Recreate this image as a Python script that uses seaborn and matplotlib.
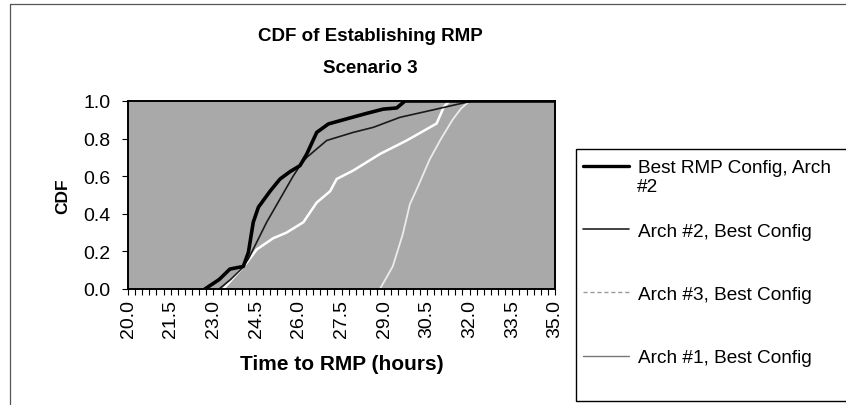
import matplotlib
matplotlib.use("Agg")
import matplotlib.pyplot as plt
from matplotlib.lines import Line2D
from matplotlib.patches import Rectangle
from matplotlib.ticker import MultipleLocator, FixedLocator, FormatStrFormatter
import seaborn as sns
import pandas as pd

# ---- data ----
best_x = [22.7, 23.2, 23.58, 24.05, 24.23, 24.4, 24.58, 24.99, 25.34, 25.7, 26.04, 26.28,
          26.63, 27.04, 27.8, 28.38, 28.97, 29.44, 29.73, 35.0]
best_y = [0.0, 0.05, 0.106, 0.12, 0.195, 0.355, 0.435, 0.52, 0.585, 0.625, 0.656, 0.718,
          0.833, 0.878, 0.91, 0.934, 0.957, 0.963, 1.0, 1.0]

arch2_x = [23.2, 23.6, 24.0, 24.23, 24.87, 25.8, 26.04, 26.28, 26.98, 27.91, 28.62, 29.55,
           30.84, 31.5, 32.1, 35.0]
arch2_y = [0.0, 0.05, 0.11, 0.16, 0.355, 0.60, 0.656, 0.70, 0.79, 0.833, 0.86, 0.913,
           0.957, 0.98, 1.0, 1.0]

arch3_x = [23.35, 24.17, 24.52, 25.1, 25.57, 26.16, 26.63, 27.1, 27.33, 27.91, 28.85, 29.79,
           30.84, 31.1, 31.3, 35.0]
arch3_y = [0.0, 0.14, 0.21, 0.27, 0.30, 0.355, 0.46, 0.52, 0.585, 0.63, 0.718, 0.79,
           0.88, 0.97, 1.0, 1.0]

arch1_x = [28.85, 29.3, 29.65, 29.9, 30.2, 30.6, 31.0, 31.4, 31.7, 32.0, 35.0]
arch1_y = [0.0, 0.12, 0.29, 0.45, 0.55, 0.69, 0.80, 0.90, 0.96, 1.0, 1.0]

series_labels = ["Best RMP Config, Arch #2", "Arch #2, Best Config",
                 "Arch #3, Best Config", "Arch #1, Best Config"]
x_ticks = [20.0, 21.5, 23.0, 24.5, 26.0, 27.5, 29.0, 30.5, 32.0, 33.5, 35.0]
y_ticks = [0.0, 0.2, 0.4, 0.6, 0.8, 1.0]

title_text = "CDF of Establishing RMP\nScenario 3"
x_label = "Time to RMP (hours)"
y_label = "CDF"

# ---- style ----
sns.set_theme(style="white")
plt.rcParams["font.family"] = ["Liberation Sans", "DejaVu Sans"]

W, H = 846, 406
fig = plt.figure(figsize=(W / 100, H / 100), dpi=100)
fig.patch.set_facecolor("white")

ax = fig.add_axes([128 / W, 1 - 290 / H, (555 - 128) / W, (290 - 102) / H])
ax.set_facecolor("#a9a9a9")

frames = []
for xs, ys, lab in zip([best_x, arch2_x, arch3_x, arch1_x],
                       [best_y, arch2_y, arch3_y, arch1_y], series_labels):
    frames.append(pd.DataFrame({"hours": xs, "cdf": ys, "series": lab}))
df = pd.concat(frames, ignore_index=True)

line_styles = {
    series_labels[3]: dict(color="#ececec", lw=1.3),
    series_labels[2]: dict(color="#ffffff", lw=1.8),
    series_labels[1]: dict(color="#1a1a1a", lw=1.2),
    series_labels[0]: dict(color="#000000", lw=2.6),
}
for lab in [series_labels[3], series_labels[2], series_labels[1], series_labels[0]]:
    sub = df[df["series"] == lab]
    st = line_styles[lab]
    sns.lineplot(data=sub, x="hours", y="cdf", ax=ax, color=st["color"],
                 linewidth=st["lw"], estimator=None, sort=False, legend=False)

ax.set_xlim(x_ticks[0], x_ticks[-1])
ax.set_ylim(0, 1.0)
ax.xaxis.set_major_locator(FixedLocator(x_ticks))
ax.xaxis.set_minor_locator(MultipleLocator(0.25))
ax.xaxis.set_major_formatter(FormatStrFormatter("%.1f"))
ax.set_yticks(y_ticks)
ax.yaxis.set_major_formatter(FormatStrFormatter("%.1f"))

ax.tick_params(axis="x", which="both", direction="out", length=4, width=0.8,
               color="black", bottom=True, pad=3)
ax.tick_params(axis="x", which="major", labelsize=14, labelrotation=90, labelcolor="black")
ax.tick_params(axis="y", which="major", direction="out", length=4.5, width=0.8,
               color="black", left=True, pad=8, labelsize=14, labelcolor="black")
for sp in ax.spines.values():
    sp.set_visible(True)
    sp.set_color("black")
    sp.set_linewidth(1.4)

ax.set_xlabel(x_label, fontsize=15, fontweight="bold", color="black")
ax.set_ylabel(y_label, fontsize=12.5, fontweight="bold", color="black")
ax.xaxis.set_label_coords(0.5, (290 - 355) / 188)
ax.yaxis.set_label_coords((70 - 128) / 427, 0.5)

fig.text(370 / W, 1 - 52.5 / H, title_text, ha="center", va="center",
         fontsize=13.5, fontweight="bold", linespacing=2.1, color="black")

# outer chart border (top and left visible)
fig.add_artist(Line2D([10 / W, 1.0], [1 - 5 / H, 1 - 5 / H], color="#555555", lw=0.9))
fig.add_artist(Line2D([10 / W, 10 / W], [1 - 5 / H, 0.0], color="#555555", lw=0.9))

# legend box
fig.add_artist(Rectangle((576 / W, 1 - 402 / H), (W + 20 - 576) / W, (402 - 150) / H,
                         transform=fig.transFigure, facecolor="white",
                         edgecolor="black", lw=1.0, clip_on=False))

handles = [
    Line2D([], [], color="black", lw=2.4),
    Line2D([], [], color="#222222", lw=1.2),
    Line2D([], [], color="#9a9a9a", lw=1.0, ls=(0, (3, 2))),
    Line2D([], [], color="#777777", lw=1.0),
]
leg_labels = ["Best RMP Config, Arch", series_labels[1], series_labels[2], series_labels[3]]
leg = fig.legend(handles, leg_labels, loc="upper left",
                 bbox_to_anchor=(583 / W, 1 - 160 / H), frameon=False,
                 fontsize=13.7, handlelength=2.4, handletextpad=0.5,
                 labelspacing=2.42, borderpad=0, borderaxespad=0)
for t in leg.get_texts():
    t.set_color("black")
fig.text(637 / W, 1 - 187 / H, "#2", ha="left", va="center", fontsize=13.7, color="black")

fig.savefig("out.png", dpi=100, facecolor="white")
